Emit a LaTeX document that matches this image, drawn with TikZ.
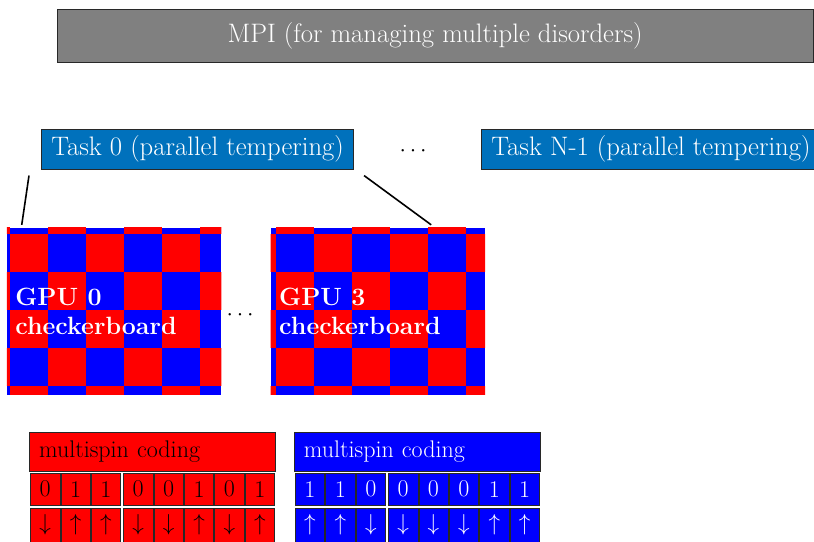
\documentclass[tikz,border=0pt]{standalone}
\definecolor{taskblue}{RGB}{0,113,188}
\definecolor{boxedge}{RGB}{40,40,40}
\newcommand\diagfont{\fontsize{18}{21.6}\selectfont}
\newcommand\taskfont{\fontsize{20}{24}\selectfont}
\newcommand\gpufont{\fontsize{18.7}{21.6}\selectfont\bfseries}
\tikzset{
  mpibox/.style={draw=boxedge,semithick,fill=gray,text=white,font=\taskfont,minimum width=19.9cm,minimum height=1.4cm},
  taskbox/.style={draw=boxedge,semithick,fill=taskblue,text=white,font=\taskfont,minimum height=1.05cm,inner xsep=0.26cm},
  gpubox/.style={inner sep=0pt,minimum width=5.63cm,minimum height=4.37cm},
  gpulabel/.style={anchor=west,align=left,text=white,font=\gpufont},
  mshead/.style={draw=boxedge,anchor=north west,text width=5.97cm,inner xsep=0.25cm,minimum height=1.02cm},
  msbit/.style={draw=boxedge,inner sep=0pt,minimum width=0.775cm,minimum height=0.858cm},
}
\begin{document}
\begin{tikzpicture}[font=\diagfont]
  \useasboundingbox (0,0) rectangle (21.42,14.24);
  % MPI on top
  \node[mpibox] (mpi) at (11.45,13.3) {MPI (for managing multiple disorders)};
  % tasks
  \node[taskbox,anchor=west] (task0) at (1.08,10.315) {Task 0 (parallel tempering)};
  \node (taskdots) at (10.87,10.25) {$\cdots$};
  \node[taskbox,anchor=west] (taskN) at (12.66,10.315) {Task N-1 (parallel tempering)};
  % checkerboards
  \node[gpubox] (gpu0) at (3.0,6.05) {};
  \node[gpubox] (gpu3) at (9.945,6.05) {};
  \foreach \g in {gpu0,gpu3} {
    \begin{scope}
      \clip (\g.south west) rectangle (\g.north east);
      \fill[blue] (\g.south west) rectangle (\g.north east);
      \foreach \i in {-1,...,13}
        \foreach \j in {3,...,8} {
          \pgfmathtruncatemacro\cellpar{mod(\i+\j,2)}
          \ifnum\cellpar=1 \fill[red] (0.263+\i,0.079+\j) rectangle ++(1,1); \fi
        }
    \end{scope}
  }
  \node[gpulabel] (gpu0txt) at ([xshift=0.1cm]gpu0.west) {GPU 0\\checkerboard};
  \node[gpulabel] (gpu3txt) at ([xshift=0.1cm]gpu3.west) {GPU 3\\checkerboard};
  \node (gpudots) at (6.32,5.95) {$\cdots$};
  % lines from task 0 down to the GPUs
  \coordinate (z0top) at ([xshift=-0.317cm,yshift=-0.16cm]task0.south west);
  \coordinate (z0bot) at ([xshift=0.394cm,yshift=0.081cm]gpu0.north west);
  \coordinate (z3top) at ([xshift=0.26cm,yshift=-0.16cm]task0.south east);
  \coordinate (z3bot) at ([xshift=-1.42cm,yshift=0.081cm]gpu3.north east);
  \draw[very thick] (z0top) -- (z0bot);
  \draw[very thick] (z3top) -- (z3bot);
  % multispin coding
  \node[mshead,fill=red] (msred) at (0.771,2.861) {multispin coding};
  \node[mshead,fill=blue,text=white] (msblue) at (7.741,2.861) {multispin coding};
  \foreach \b [count=\k from 0] in {0,1,1,0,0,1,0,1}
    \node[msbit,fill=red] (rbit\k) at ({1.1875+0.8*\k+0.05*(\k>2)},1.368) {\b};
  \foreach \b [count=\k from 0] in {\downarrow,\uparrow,\uparrow,\downarrow,\downarrow,\uparrow,\downarrow,\uparrow}
    \node[msbit,fill=red,minimum height=0.9cm] (rspin\k) at ({1.1875+0.8*\k+0.05*(\k>2)},0.426) {$\b$};
  \foreach \b [count=\k from 0] in {1,1,0,0,0,0,1,1}
    \node[msbit,fill=blue,text=white] (bbit\k) at ({8.1575+0.8*\k+0.05*(\k>2)},1.368) {\b};
  \foreach \b [count=\k from 0] in {\uparrow,\uparrow,\downarrow,\downarrow,\downarrow,\downarrow,\uparrow,\uparrow}
    \node[msbit,fill=blue,text=white,minimum height=0.9cm] (bspin\k) at ({8.1575+0.8*\k+0.05*(\k>2)},0.426) {$\b$};
\end{tikzpicture}
\end{document}
